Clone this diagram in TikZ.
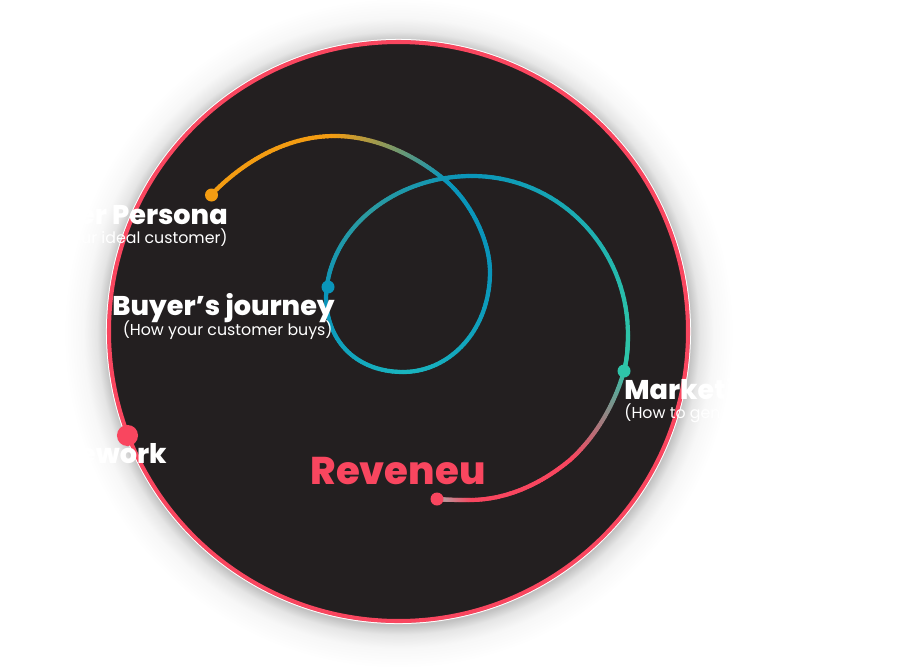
\documentclass[tikz,border=0pt]{standalone}
\usepackage{fontspec}
\setmainfont{Poppins}[BoldFont={Poppins ExtraBold}]
\usepackage{tikz}
\usetikzlibrary{arrows.meta,calc}

\definecolor{discdark}{HTML}{231F20}
\definecolor{ringred}{HTML}{F9465F}
\definecolor{dotorange}{HTML}{F39C12}
\definecolor{dotblue}{HTML}{0A95BA}
\definecolor{midteal}{HTML}{1AB5BF}
\definecolor{dotgreen}{HTML}{2EC4A9}
\definecolor{dullteal}{HTML}{2C9AA0}
\definecolor{fadegray}{HTML}{AAAAAA}

\pgfdeclareradialshading{discglow}{\pgfpointorigin}{
 color(0bp)=(black!24);
 color(21.8bp)=(black!24);
 color(22.5bp)=(black!10);
 color(23.5bp)=(black!3);
 color(25bp)=(white);
 color(50bp)=(white)
}

\tikzset{
 curveline/.style={line width=2.4pt, line cap=round},
 dot/.style={circle, inner sep=0pt, minimum size=7.4pt},
 titletext/.style={draw=none, text=white, font=\fontsize{15.4}{15}\selectfont\bfseries, inner sep=0pt},
 subtext/.style={draw=none, text=white, font=\fontsize{9}{9}\selectfont, inner sep=0pt},
}

% one piece of the line, from colour to colour
\newcommand{\gradpiece}[6]{
 \foreach \i in {1,...,36} {
  \pgfmathsetmacro{\mix}{100-100*(\i-0.5)/36}
  \pgfmathsetmacro{\ta}{(\i-1)/36}
  \pgfmathsetmacro{\tb}{\i/36}
  \path (#1) coordinate (pa) (#2) coordinate (pb) (#3) coordinate (pc) (#4) coordinate (pd);
  \draw[curveline, color=#5!\mix!#6]
   (${(1-\ta)^3}*(pa)+{3*(1-\ta)^2*\ta}*(pb)+{3*(1-\ta)*\ta^2}*(pc)+{\ta^3}*(pd)$) --
   (${(1-\tb)^3}*(pa)+{3*(1-\tb)^2*\tb}*(pb)+{3*(1-\tb)*\tb^2}*(pc)+{\tb^3}*(pd)$);
 }
}

\begin{document}
\begin{tikzpicture}[x=0.02cm, y=-0.02cm]

 \useasboundingbox (0,0) rectangle (899,670);

 % disc
 \shade[shading=discglow] (398.5,333) circle (335);
 \draw[white, line width=0.6pt] (398.5,331.5) circle (292);
 \draw[fill=discdark, draw=ringred, line width=2.3pt] (398.5,331.5) circle (289.5);

 % line
 \gradpiece{211,195}{247,158}{290,136}{335,136}{dotorange}{dotorange}
 \gradpiece{335,136}{375,136}{415,155}{445,180}{dotorange}{dotblue}
 \gradpiece{445,180}{470,201}{490,240}{490,272}{dotblue}{dotblue}
 \gradpiece{490,272}{490,330}{450,372}{403,372}{dotblue}{midteal}
 \gradpiece{403,372}{360,372}{328,345}{326,300}{midteal}{dotblue}
 \gradpiece{326,300}{326,266}{342.5,235}{369,212.5}{dotblue}{dullteal}
 \gradpiece{369,212.5}{395.5,190}{432,176}{472,176}{dullteal}{dotblue}
 \gradpiece{472,176}{558,176}{628,247}{628,335}{dotblue}{dotgreen}
 \gradpiece{628,335}{628,347}{627,360}{624,371}{dotgreen}{dotgreen}
 \gradpiece{624,371}{616,400}{598,435}{570,460}{dotgreen}{ringred}
 \gradpiece{570,460}{540,485}{505,500}{470,500}{ringred}{ringred}
 \gradpiece{470,500}{458,500}{447,500}{437,499}{ringred}{fadegray}

 % dots
 \node[dot, fill=dotorange] (persona) at (211.5,195) {};
 \node[dot, fill=dotblue] (journey) at (328,287) {};
 \node[dot, fill=dotgreen] (strategy) at (624,371) {};
 \node[dot, fill=ringred] (revenue) at (437,499) {};
 \node[dot, fill=ringred, minimum size=12pt] (frame) at (127.5,435.5) {};

 % legend
 \node[titletext, anchor=base east] (personatitle) at (228,224) {Buyer Persona};
 \node[subtext, anchor=base east] (personasub) at (228,243) {(Who is your ideal customer)};
 \node[titletext, anchor=base east] (journeytitle) at (335,315) {Buyer’s journey};
 \node[subtext, anchor=base east] (journeysub) at (333,335) {(How your customer buys)};
 \node[titletext, anchor=base west] (strategytitle) at (624,399) {Marketing Strategy};
 \node[subtext, anchor=base west] (strategysub) at (624,418) {(How to generate demand)};
 \node[titletext, anchor=base east] (frametitle) at (167,463) {Framework};
 \node[titletext, text=ringred, font=\fontsize{22}{22}\selectfont\bfseries, anchor=base] (reventitle) at (398,484) {Reveneu};

\end{tikzpicture}
\end{document}
